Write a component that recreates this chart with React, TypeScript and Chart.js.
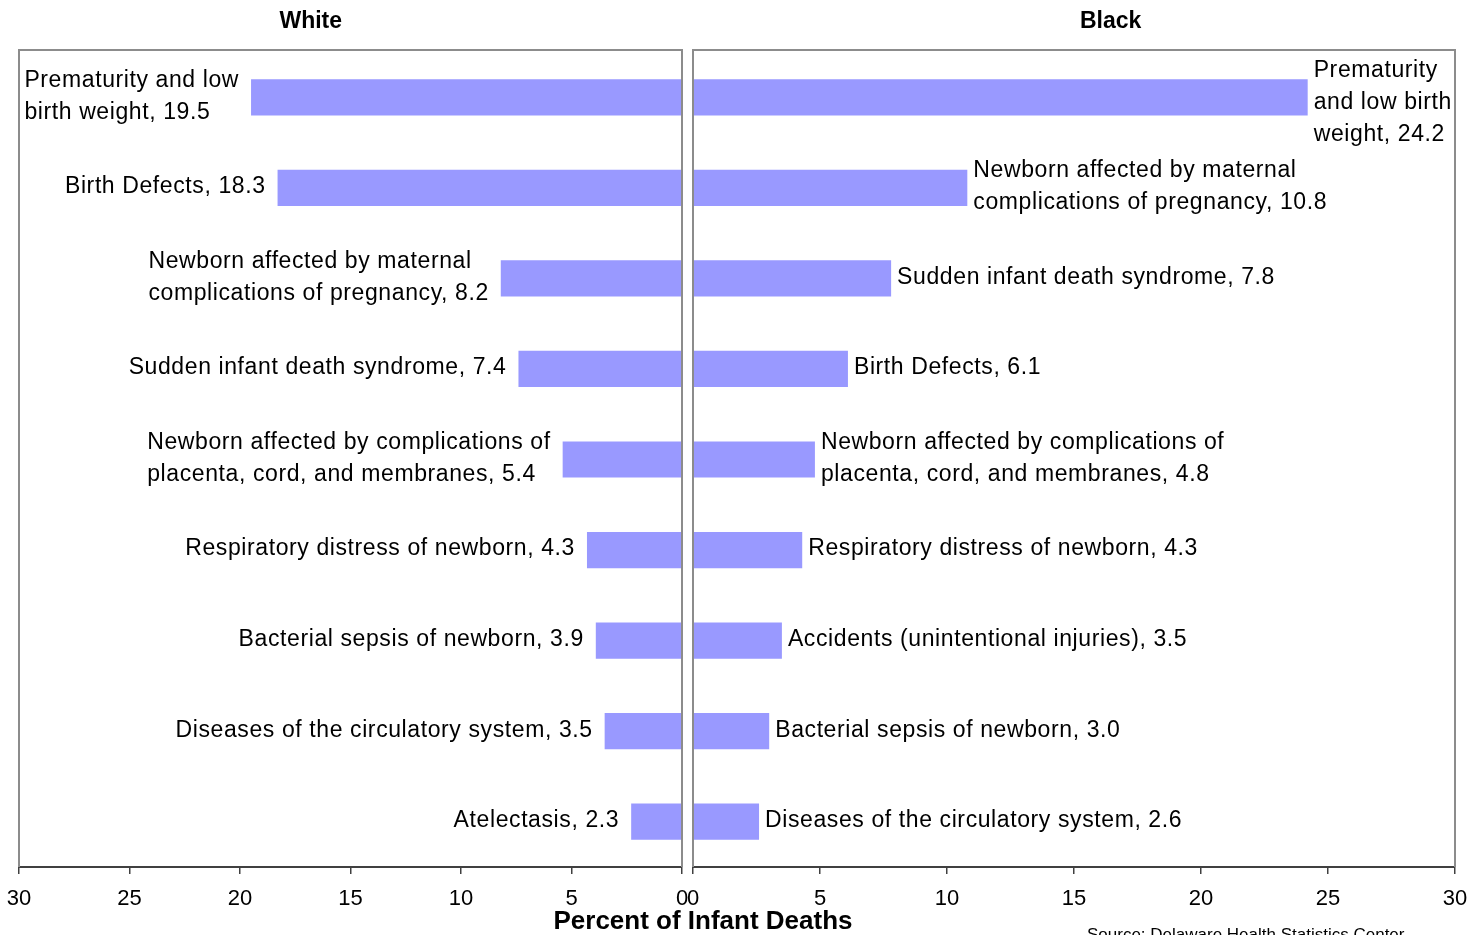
import React, { useEffect, useRef } from "react";
import { Chart, registerables } from "chart.js";

Chart.register(...registerables);

// ---------- data ----------
const whiteCauses: string[][] = [
  ["Prematurity and low", "birth weight"],
  ["Birth Defects"],
  ["Newborn affected by maternal", "complications of pregnancy"],
  ["Sudden infant death syndrome"],
  ["Newborn affected by complications of", "placenta, cord, and membranes"],
  ["Respiratory distress of newborn"],
  ["Bacterial sepsis of newborn"],
  ["Diseases of the circulatory system"],
  ["Atelectasis"],
];
const whiteValues: number[] = [19.5, 18.3, 8.2, 7.4, 5.4, 4.3, 3.9, 3.5, 2.3];

const blackCauses: string[][] = [
  ["Prematurity", "and low birth", "weight"],
  ["Newborn affected by maternal", "complications of pregnancy"],
  ["Sudden infant death syndrome"],
  ["Birth Defects"],
  ["Newborn affected by complications of", "placenta, cord, and membranes"],
  ["Respiratory distress of newborn"],
  ["Accidents (unintentional injuries)"],
  ["Bacterial sepsis of newborn"],
  ["Diseases of the circulatory system"],
];
const blackValues: number[] = [24.2, 10.8, 7.8, 6.1, 4.8, 4.3, 3.5, 3.0, 2.6];

const axisMin = 0;
const axisMax = 30;
const axisStep = 5;
const panelTitles: string[] = ["White", "Black"];
const axisTitle = "Percent of Infant Deaths";
const sourceNote = "Source: Delaware Health Statistics Center";

// ---------- styling ----------
const W = 1483;
const H = 935;
const FONT = '"Liberation Sans", Arial, Helvetica, sans-serif';
const BAR_COLOR = "#9999FF";
const BOX_COLOR = "#8c8c8c";
const AXIS_COLOR = "#404040";
const BOX_TOP = 50;

type PanelOpts = {
  side: "left" | "right";
  title: string;
  causes: string[][];
  values: number[];
  drawShared: boolean;
};

function makePanelPlugin(o: PanelOpts) {
  return {
    id: "panelDecor_" + o.side,
    afterDatasetsDraw(chart: any) {
      const ctx: CanvasRenderingContext2D = chart.ctx;
      const a = chart.chartArea;
      ctx.save();
      // box (left, top, right borders)
      ctx.strokeStyle = BOX_COLOR;
      ctx.lineWidth = 2;
      ctx.beginPath();
      ctx.moveTo(a.left, a.bottom);
      ctx.lineTo(a.left, BOX_TOP);
      ctx.lineTo(a.right, BOX_TOP);
      ctx.lineTo(a.right, a.bottom);
      ctx.stroke();

      // data labels
      const meta = chart.getDatasetMeta(0);
      ctx.fillStyle = "#000";
      ctx.font = `23px ${FONT}`;
      (ctx as any).letterSpacing = "0.6px";
      ctx.textBaseline = "middle";
      ctx.textAlign = "left";
      const lineH = 32;
      meta.data.forEach((el: any, i: number) => {
        const lines = o.causes[i].slice();
        lines[lines.length - 1] =
          lines[lines.length - 1] + ", " + o.values[i].toFixed(1);
        const n = lines.length;
        let top = el.y - 1 - (n * lineH) / 2;
        if (top < BOX_TOP + 5) top = BOX_TOP + 5;
        const widths = lines.map((l) => ctx.measureText(l).width);
        const maxW = Math.max(...widths);
        const x = o.side === "left" ? el.x - 12 - maxW : el.x + 6;
        lines.forEach((l, k) => {
          ctx.fillText(l, x, top + lineH / 2 + k * lineH);
        });
      });
      (ctx as any).letterSpacing = "0px";

      // panel title
      ctx.font = `bold 23px ${FONT}`;
      ctx.textAlign = "center";
      const tx =
        o.side === "left"
          ? a.left + (a.right - a.left) * 0.44
          : a.left + (a.right - a.left) * 0.548;
      ctx.fillText(o.title, tx, 22);

      if (o.drawShared) {
        ctx.font = `bold 26px ${FONT}`;
        ctx.textAlign = "center";
        ctx.fillText(axisTitle, 703, 922);
        ctx.font = `17px ${FONT}`;
        ctx.textAlign = "left";
        ctx.textBaseline = "top";
        ctx.fillText(sourceNote, 1087, 927);
      }
      ctx.restore();
    },
  };
}

function buildConfig(o: PanelOpts, padding: any) {
  return {
    type: "bar" as const,
    data: {
      labels: o.causes.map((c) => c.join(" ")),
      datasets: [
        {
          label: o.title,
          data: o.values,
          backgroundColor: BAR_COLOR,
          borderWidth: 0,
          barPercentage: 0.4,
          categoryPercentage: 1,
        },
      ],
    },
    options: {
      indexAxis: "y" as const,
      responsive: false,
      animation: false as const,
      devicePixelRatio: 1,
      layout: { padding },
      plugins: {
        legend: { display: false },
        title: { display: false },
        tooltip: { enabled: false },
      },
      scales: {
        x: {
          type: "linear" as const,
          min: axisMin,
          max: axisMax,
          reverse: o.side === "left",
          ticks: {
            stepSize: axisStep,
            color: "#000",
            font: { size: 22, family: FONT },
            padding: 12,
            maxRotation: 0,
            autoSkip: false,
          },
          grid: {
            drawOnChartArea: false,
            drawTicks: true,
            tickLength: 7,
            color: AXIS_COLOR,
            lineWidth: 1.5,
          },
          border: { display: true, color: AXIS_COLOR, width: 2 },
          afterFit: (s: any) => {
            s.height = H - 867;
            s.paddingLeft = 0;
            s.paddingRight = 0;
          },
        },
        y: {
          type: "category" as const,
          display: false,
          offset: true,
        },
      },
    },
    plugins: [makePanelPlugin(o)],
  };
}

export default function App() {
  const leftRef = useRef<HTMLCanvasElement>(null);
  const rightRef = useRef<HTMLCanvasElement>(null);

  useEffect(() => {
    const left = new Chart(
      leftRef.current as HTMLCanvasElement,
      buildConfig(
        {
          side: "left",
          title: panelTitles[0],
          causes: whiteCauses,
          values: whiteValues,
          drawShared: false,
        },
        { left: 19, right: W - 682, top: 52, bottom: 0 }
      ) as any
    );
    const right = new Chart(
      rightRef.current as HTMLCanvasElement,
      buildConfig(
        {
          side: "right",
          title: panelTitles[1],
          causes: blackCauses,
          values: blackValues,
          drawShared: true,
        },
        { left: 693, right: W - 1455, top: 52, bottom: 0 }
      ) as any
    );
    return () => {
      left.destroy();
      right.destroy();
    };
  }, []);

  const canvasStyle: React.CSSProperties = {
    position: "absolute",
    left: 0,
    top: 0,
    width: W,
    height: H,
  };

  return (
    <div
      style={{
        position: "absolute",
        left: 0,
        top: 0,
        width: W,
        height: H,
        overflow: "hidden",
        background: "#fff",
      }}
    >
      <canvas ref={leftRef} width={W} height={H} style={canvasStyle} />
      <canvas ref={rightRef} width={W} height={H} style={canvasStyle} />
    </div>
  );
}
